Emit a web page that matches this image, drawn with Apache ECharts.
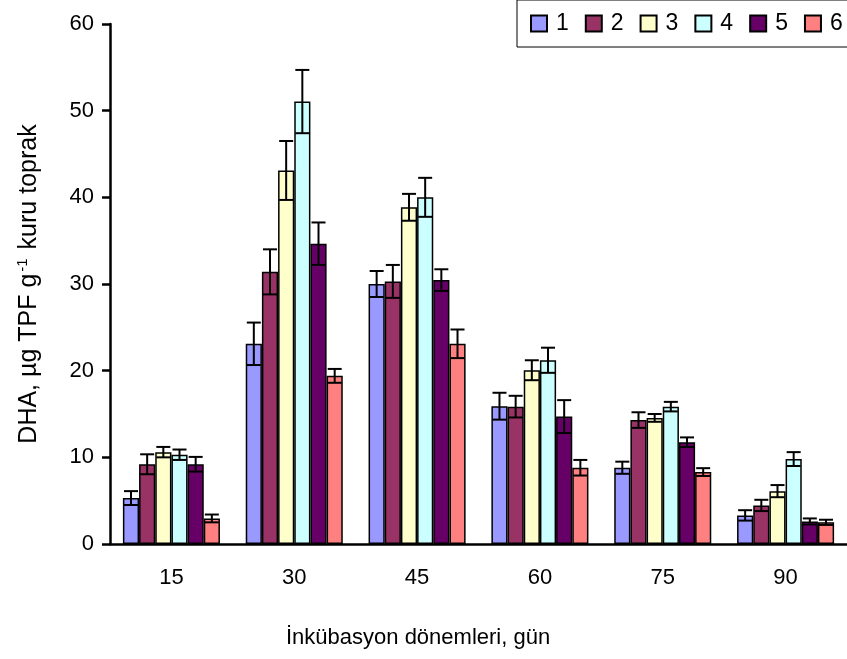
<!DOCTYPE html>
<html>
<head>
<meta charset="utf-8">
<script src="https://cdn.jsdelivr.net/npm/echarts@6/dist/echarts.min.js"></script>
<style>
  html, body { margin: 0; padding: 0; background: #fff; }
  #main { width: 847px; height: 659px; }
</style>
</head>
<body>
<div id="main"></div>
<script>
// gün
var categories = ['15', '30', '45', '60', '75', '90'];
var seriesNames = ['1', '2', '3', '4', '5', '6'];
var colors = ['#9999ff', '#993366', '#ffffcc', '#ccffff', '#660066', '#ff8080'];

// ortalama
var mean1 = [5.3, 23.1, 30.0, 15.9, 8.8, 3.3];
var mean2 = [9.2, 31.4, 30.3, 15.85, 14.3, 4.45];
var mean3 = [10.6, 43.1, 38.85, 20.05, 14.55, 6.1];
var mean4 = [10.3, 51.05, 40.0, 21.2, 15.85, 9.8];
var mean5 = [9.2, 34.65, 30.45, 14.7, 11.75, 2.6];
var mean6 = [2.95, 19.4, 23.1, 8.8, 8.3, 2.5];

// hata çubukları (+/-)
var err1 = [0.8, 2.45, 1.5, 1.55, 0.7, 0.6];
var err2 = [1.15, 2.6, 1.9, 1.25, 0.9, 0.65];
var err3 = [0.6, 3.4, 1.55, 1.15, 0.45, 0.7];
var err4 = [0.6, 3.65, 2.25, 1.45, 0.55, 0.8];
var err5 = [0.85, 2.45, 1.25, 1.9, 0.55, 0.35];
var err6 = [0.45, 0.8, 1.65, 0.9, 0.45, 0.3];

var yTicks = [0, 10, 20, 30, 40, 50, 60];

var means = [mean1, mean2, mean3, mean4, mean5, mean6];
var errs = [err1, err2, err3, err4, err5, err6];

var FONT = "'Liberation Sans', Arial, sans-serif";
var CAT_GAP = 0.21;

var chart = echarts.init(document.getElementById('main'), null, { renderer: 'canvas' });

var series = [];
means.forEach(function (m, i) {
  series.push({
    name: seriesNames[i],
    type: 'bar',
    data: m,
    barGap: '0%',
    barCategoryGap: (CAT_GAP * 100) + '%',
    itemStyle: { color: colors[i], borderColor: '#000', borderWidth: 1.5 },
    emphasis: { disabled: true }
  });
});

// error bar data: [kategori, ortalama, hata, seri]
var errData = [];
means.forEach(function (m, s) {
  m.forEach(function (v, c) {
    errData.push([c, v, errs[s][c], s]);
  });
});

series.push({
  type: 'custom',
  data: errData,
  z: 10,
  silent: true,
  renderItem: function (params, api) {
    var c = api.value(0), m = api.value(1), e = api.value(2), s = api.value(3);
    var p = api.coord([c, m]);
    var band = api.size([1, 0])[0];
    var bw = band * (1 - CAT_GAP) / 6;
    var x = p[0] + (s - 2.5) * bw;
    var hi = api.coord([c, m + e])[1];
    var lo = api.coord([c, m - e])[1];
    var cap = 7;
    var st = { stroke: '#000', lineWidth: 2 };
    return {
      type: 'group',
      children: [
        { type: 'line', shape: { x1: x, y1: hi, x2: x, y2: lo }, style: st },
        { type: 'line', shape: { x1: x - cap, y1: hi, x2: x + cap, y2: hi }, style: st },
        { type: 'line', shape: { x1: x - cap, y1: lo, x2: x + cap, y2: lo }, style: st }
      ]
    };
  }
});

var option = {
  animation: false,
  textStyle: { fontFamily: FONT, color: '#000' },
  title: {
    text: 'İnkübasyon dönemleri, gün',
    left: 281,
    top: 622,
    textStyle: { fontFamily: FONT, fontSize: 22, fontWeight: 'normal', color: '#000' }
  },
  legend: {
    data: seriesNames,
    left: 517,
    top: 0,
    width: 420,
    padding: [12, 60, 12, 13],
    borderColor: '#000',
    borderWidth: 1,
    itemWidth: 16,
    itemHeight: 16,
    itemGap: 16,
    icon: 'rect',
    textStyle: { fontFamily: FONT, fontSize: 23, color: '#000', padding: [0, 0, 0, 4] }
  },
  grid: {
    left: 110,
    right: -11,
    top: 24,
    bottom: 115
  },
  xAxis: {
    type: 'category',
    data: categories,
    axisLine: { lineStyle: { color: '#000', width: 2.5 } },
    axisTick: { length: 8, lineStyle: { color: '#000', width: 2.5 } },
    axisLabel: { fontFamily: FONT, fontSize: 22, color: '#000', margin: 23 }
  },
  yAxis: {
    type: 'value',
    min: yTicks[0],
    max: yTicks[yTicks.length - 1],
    interval: 10,
    name: 'DHA, µg TPF g{sup|-1} kuru toprak',
    nameLocation: 'middle',
    nameGap: 66,
    nameTextStyle: {
      fontFamily: FONT, fontSize: 25, color: '#000',
      rich: { sup: { fontFamily: FONT, fontSize: 15, color: '#000', verticalAlign: 'top', padding: [0, 2, 14, 2] } }
    },
    axisLine: { show: true, lineStyle: { color: '#000', width: 2.5 } },
    axisTick: { show: true, length: 8, lineStyle: { color: '#000', width: 2.5 } },
    axisLabel: { fontFamily: FONT, fontSize: 22, color: '#000', margin: 16 },
    splitLine: { show: false }
  },
  series: series
};

chart.setOption(option);
</script>
</body>
</html>
